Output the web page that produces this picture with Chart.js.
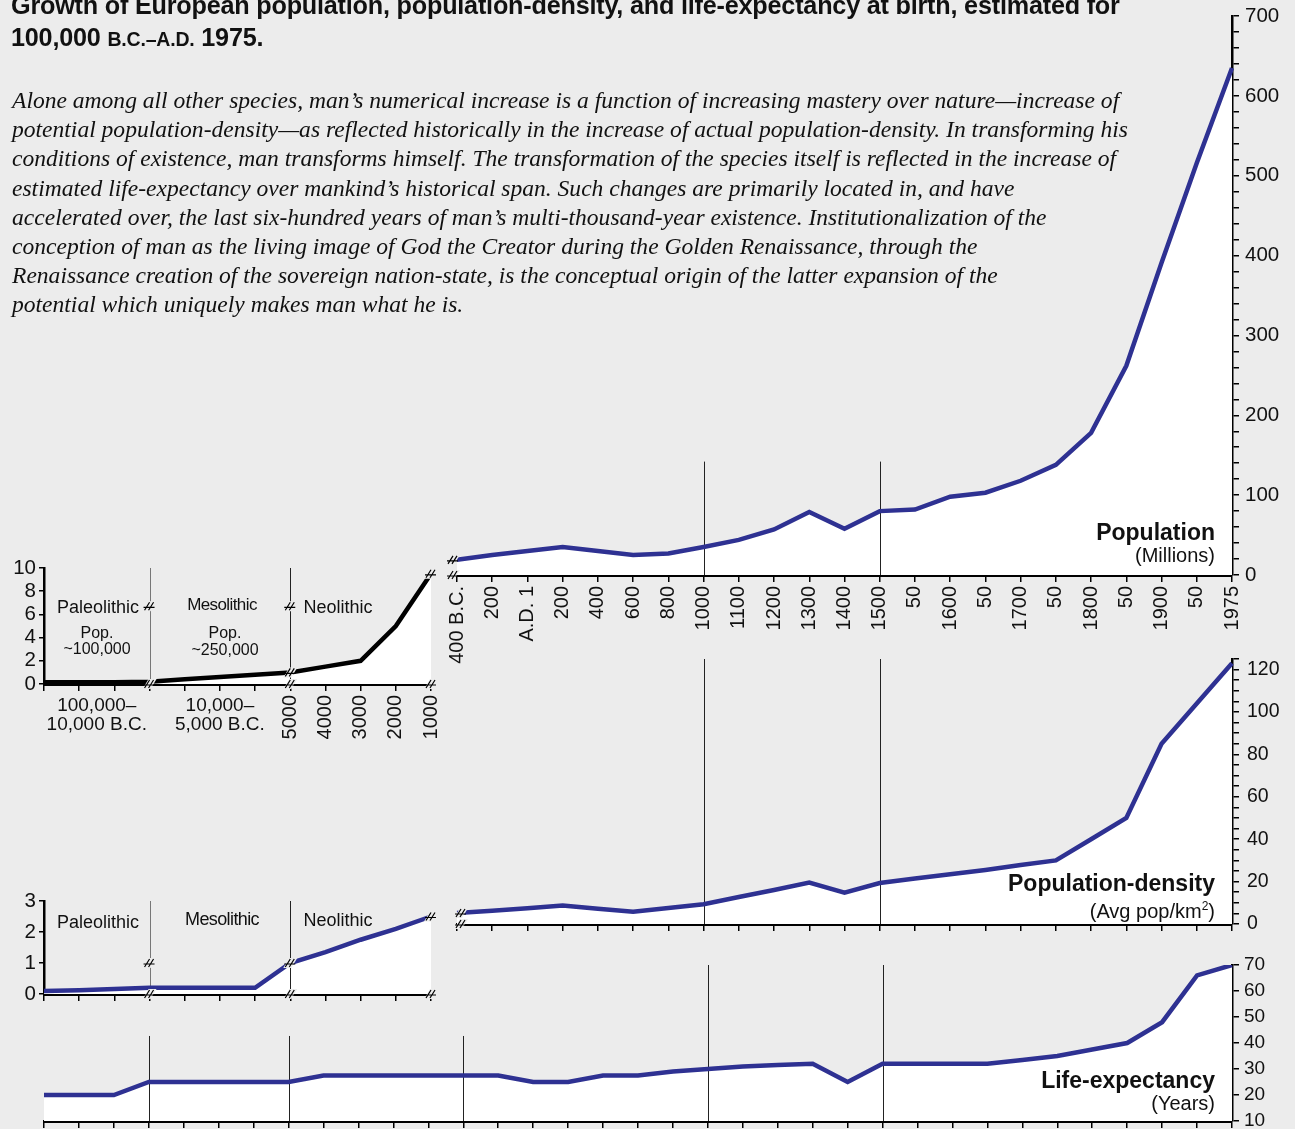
<!DOCTYPE html>
<html>
<head>
<meta charset="utf-8">
<script src="https://cdn.jsdelivr.net/npm/chart.js@4.4.1/dist/chart.umd.min.js"></script>
<style>
  body { margin: 0; width: 1295px; height: 1129px; overflow: hidden; position: relative;
         background: #ececec; font-family: 'Liberation Sans', Arial, sans-serif; color: #111; }
  canvas { position: absolute; }
  #title { position: absolute; left: 11px; top: -11px; font-weight: bold; font-size: 25.2px;
           line-height: 32px; white-space: nowrap; letter-spacing: -0.2px; }
  #title .sc { font-size: 19.5px; }
  #intro { position: absolute; left: 12px; top: 86px; font-family: 'Liberation Serif', 'Times New Roman', serif;
           font-style: italic; font-size: 23.55px; line-height: 29.2px; white-space: nowrap; }
  .lab { position: absolute; transform: translate(-50%, -50%); white-space: nowrap; font-size: 18px; }
  .cap { position: absolute; right: 80px; text-align: right; white-space: nowrap; }
  .cap b { display: block; font-size: 23px; line-height: 23px; }
  .cap span { display: block; font-size: 20px; line-height: 23px; }
</style>
</head>
<body>
<canvas id="popMain" width="855" height="683" style="left:440px;top:-3px"></canvas>
<canvas id="popEarly" width="470" height="200" style="left:0;top:550px"></canvas>
<canvas id="densMain" width="855" height="324" style="left:440px;top:630px"></canvas>
<canvas id="densEarly" width="470" height="125" style="left:0;top:885px"></canvas>
<canvas id="life" width="1295" height="195" style="left:0;top:945px"></canvas>

<div id="title">Growth of European population, population-density, and life-expectancy at birth, estimated for<br>100,000 <span class="sc">B.C.–A.D.</span> 1975.</div>
<div id="intro">Alone among all other species, man’s numerical increase is a function of increasing mastery over nature—increase of<br>potential population-density—as reflected historically in the increase of actual population-density. In transforming his<br>conditions of existence, man transforms himself. The transformation of the species itself is reflected in the increase of<br>estimated life-expectancy over mankind’s historical span. Such changes are primarily located in, and have<br>accelerated over, the last six-hundred years of man’s multi-thousand-year existence. Institutionalization of the<br>conception of man as the living image of God the Creator during the Golden Renaissance, through the<br>Renaissance creation of the sovereign nation-state, is the conceptual origin of the latter expansion of the<br>potential which uniquely makes man what he is.</div>

<div class="lab" style="left:98px;top:607px">Paleolithic</div>
<div class="lab" style="left:97px;top:633px;font-size:16px">Pop.</div>
<div class="lab" style="left:97px;top:649px;font-size:16px">~100,000</div>
<div class="lab" style="left:222px;top:605px;font-size:17px;letter-spacing:-0.6px">Mesolithic</div>
<div class="lab" style="left:225px;top:633px;font-size:16px">Pop.</div>
<div class="lab" style="left:225px;top:650px;font-size:16px">~250,000</div>
<div class="lab" style="left:338px;top:607px">Neolithic</div>

<div class="lab" style="left:98px;top:922px">Paleolithic</div>
<div class="lab" style="left:222px;top:919px;letter-spacing:-0.6px">Mesolithic</div>
<div class="lab" style="left:338px;top:920px">Neolithic</div>

<div class="cap" style="top:521px"><b>Population</b><span>(Millions)</span></div>
<div class="cap" style="top:872px"><b>Population-density</b><span>(Avg pop/km<sup style="font-size:12px">2</sup>)</span></div>
<div class="cap" style="top:1069px"><b>Life-expectancy</b><span>(Years)</span></div>

<script>
// 400 B.C. - A.D. 1975
var periodLabels = ['400 B.C.', '200', 'A.D. 1', '200', '400', '600', '800', '1000', '1100', '1200', '1300', '1400',
                    '1500', '50', '1600', '50', '1700', '50', '1800', '50', '1900', '50', '1975'];
var population = [19, 25, 30, 35, 30, 25, 27, 35, 44, 57, 79, 58, 80, 82, 98, 103, 118, 138, 178, 262, 391, 516, 635];
var density = [5.2, 6.2, 7.4, 8.7, 7.2, 5.8, 7.5, 9.3, 12.7, 16, 19.5, 14.8, 19.3, 21.5, 23.5, 25.5, 27.8, 30,
               40, 50, 85, 104, 123];

// 100,000 B.C. - 1000 B.C.
var earlyLabels = ['', '', '', '', '', '', '', '5000', '4000', '3000', '2000', '1000'];
var earlyPopulation = [0.15, 0.15, 0.15, 0.2, 0.4, 0.6, 0.8, 1, 1.5, 2, 5, 9.5];
var earlyDensity = [0.1, 0.12, 0.16, 0.2, 0.2, 0.2, 0.2, 1, 1.35, 1.75, 2.1, 2.5];
var eraCaptions = [['100,000–', '10,000 B.C.'], ['10,000–', '5,000 B.C.']];

// whole span, early steps followed by the later ones
var lifeLabels = earlyLabels.map(function (l, i) { return 'e' + i; }).concat(periodLabels);
var lifeExpectancy = [20, 20, 20, 25, 25, 25, 25, 25, 27.5, 27.5, 27.5, 27.5, 27.5, 27.5, 25, 25, 27.5, 27.5,
                      29, 30, 31, 31.5, 32, 25, 32, 32, 32, 32, 33.5, 35, 37.5, 40, 48, 66, 70];

var FONT = "'Liberation Sans', Arial, sans-serif";
var BLUE = '#2e3192';

function drawBreak(ctx, x, y) {
  ctx.save();
  ctx.translate(x, y);
  ctx.fillStyle = '#ececec';
  ctx.beginPath();
  ctx.moveTo(-7, 5); ctx.lineTo(-1, -5); ctx.lineTo(7, -5); ctx.lineTo(1, 5);
  ctx.closePath(); ctx.fill();
  ctx.strokeStyle = '#000'; ctx.lineWidth = 1.2;
  ctx.beginPath();
  ctx.moveTo(-5, 4); ctx.lineTo(0, -4);
  ctx.moveTo(-1, 4); ctx.lineTo(4, -4);
  ctx.moveTo(-6, 1); ctx.lineTo(5, 1);
  ctx.stroke();
  ctx.restore();
}

// divider lines, axis breaks, era captions
var marks = {
  id: 'marks',
  beforeDatasetsDraw: function (chart, args, opts) {
    var ctx = chart.ctx, x = chart.scales.x, y = chart.scales.y;
    (opts.dividers || []).forEach(function (d) {
      var px = Math.round(x.getPixelForValue(d.at)) + 0.5;
      ctx.save();
      ctx.strokeStyle = d.color || '#222';
      ctx.lineWidth = 1;
      ctx.beginPath();
      ctx.moveTo(px, y.getPixelForValue(d.top));
      ctx.lineTo(px, y.bottom);
      ctx.stroke();
      ctx.restore();
    });
  },
  afterDraw: function (chart, args, opts) {
    var ctx = chart.ctx, x = chart.scales.x, y = chart.scales.y;
    (opts.breaks || []).forEach(function (b) {
      var py = b.value === null ? y.bottom : y.getPixelForValue(b.value);
      drawBreak(ctx, x.getPixelForValue(b.at) + (b.dx || 0), py);
    });
    (opts.captions || []).forEach(function (c) {
      ctx.save();
      ctx.font = '19px ' + FONT;
      ctx.fillStyle = '#111';
      ctx.textAlign = 'center';
      ctx.textBaseline = 'middle';
      c.lines.forEach(function (t, i) {
        ctx.fillText(t, x.getPixelForValue(c.at), y.bottom + 22 + i * 19);
      });
      ctx.restore();
    });
  }
};

function makeChart(id, o) {
  var axisFont = { family: FONT, size: o.yFont || 19 };
  return new Chart(document.getElementById(id), {
    type: 'line',
    data: {
      labels: o.labels,
      datasets: [{
        data: o.data,
        borderColor: o.color || BLUE,
        borderWidth: 4.5,
        backgroundColor: '#fff',
        fill: 'start',
        pointRadius: 0,
        tension: 0
      }]
    },
    options: {
      responsive: false,
      animation: false,
      events: [],
      layout: { padding: o.pad },
      plugins: {
        legend: { display: false },
        tooltip: { enabled: false },
        filler: { drawTime: 'beforeDatasetsDraw' },
        marks: o.marks || {}
      },
      scales: {
        x: {
          offset: false,
          z: 1,
          afterFit: function (s) { s.height = o.xHeight; },
          border: { display: true, color: '#000', width: 3 },
          grid: { drawOnChartArea: false, tickLength: 7, color: '#000', lineWidth: 1.5 },
          ticks: {
            display: !!o.xTicks,
            autoSkip: false, minRotation: 90, maxRotation: 90, padding: 4,
            color: '#111', font: { family: FONT, size: 20 },
            callback: function (v, i) { return o.xTicks ? o.xTicks[i] : ''; }
          }
        },
        y: {
          position: o.yPos || 'right',
          min: o.min, max: o.max,
          z: 1,
          afterFit: function (s) { s.width = o.yWidth; },
          border: { display: true, color: '#000', width: 2.5 },
          grid: { drawOnChartArea: false, tickLength: o.tickLen || 7, color: '#000', lineWidth: 1.5 },
          ticks: {
            stepSize: o.step, autoSkip: false, padding: o.yPad || 5,
            color: '#111', font: axisFont,
            callback: function (v) { return v % o.labelEvery === 0 ? v : ''; }
          }
        }
      }
    },
    plugins: [marks]
  });
}

makeChart('popMain', {
  labels: periodLabels, data: population, xTicks: periodLabels,
  min: 0, max: 700, step: 20, labelEvery: 100, yFont: 20.5, yPad: 6,
  pad: { left: 17, top: 19, right: 0, bottom: 0 }, xHeight: 105, yWidth: 63,
  marks: {
    dividers: [{ at: 7, top: 142 }, { at: 12, top: 142 }],
    breaks: [{ at: 0, value: 19, dx: -4 }, { at: 0, value: null, dx: -4 }]
  }
});

makeChart('popEarly', {
  labels: earlyLabels.map(function (l, i) { return 'e' + i; }), data: earlyPopulation, xTicks: earlyLabels,
  color: '#000', min: 0, max: 10, step: 2, labelEvery: 2, yPos: 'left', yFont: 20.5, tickLen: 5, yPad: 3,
  pad: { left: 0, top: 18, right: 39, bottom: 0 }, xHeight: 66, yWidth: 44,
  marks: {
    dividers: [{ at: 3, top: 10, color: '#777' }, { at: 7, top: 10 }],
    breaks: [{ at: 3, value: 6.7 }, { at: 3, value: null }, { at: 7, value: 6.7 }, { at: 7, value: 1 },
             { at: 7, value: null }, { at: 11, value: 9.5 }, { at: 11, value: null }],
    captions: [{ at: 1.5, lines: eraCaptions[0] }, { at: 5, lines: eraCaptions[1] }]
  }
});

makeChart('densMain', {
  labels: periodLabels, data: density,
  min: 0, max: 125, step: 5, labelEvery: 20, yFont: 19.5, yPad: 8,
  pad: { left: 17, top: 29, right: 0, bottom: 0 }, xHeight: 30, yWidth: 63,
  marks: {
    dividers: [{ at: 7, top: 125 }, { at: 12, top: 125 }],
    breaks: [{ at: 0, value: 5.2, dx: 4 }, { at: 0, value: null, dx: 4 }]
  }
});

makeChart('densEarly', {
  labels: earlyLabels.map(function (l, i) { return 'e' + i; }), data: earlyDensity,
  min: 0, max: 3, step: 1, labelEvery: 1, yPos: 'left', yFont: 20.5, tickLen: 5, yPad: 3,
  pad: { left: 0, top: 16, right: 39, bottom: 0 }, xHeight: 16, yWidth: 44,
  marks: {
    dividers: [{ at: 3, top: 3, color: '#777' }, { at: 7, top: 3 }],
    breaks: [{ at: 3, value: 1 }, { at: 3, value: null }, { at: 7, value: 1 }, { at: 7, value: null },
             { at: 11, value: 2.5 }, { at: 11, value: null }]
  }
});

makeChart('life', {
  labels: lifeLabels, data: lifeExpectancy,
  min: 10, max: 70, step: 10, labelEvery: 10, yFont: 19,
  pad: { left: 44, top: 20, right: 0, bottom: 0 }, xHeight: 19, yWidth: 63,
  marks: {
    dividers: [{ at: 3, top: 42.7 }, { at: 7, top: 42.7 }, { at: 12, top: 42.7 }, { at: 19, top: 70 }, { at: 24, top: 70 }]
  }
});
</script>
</body>
</html>
